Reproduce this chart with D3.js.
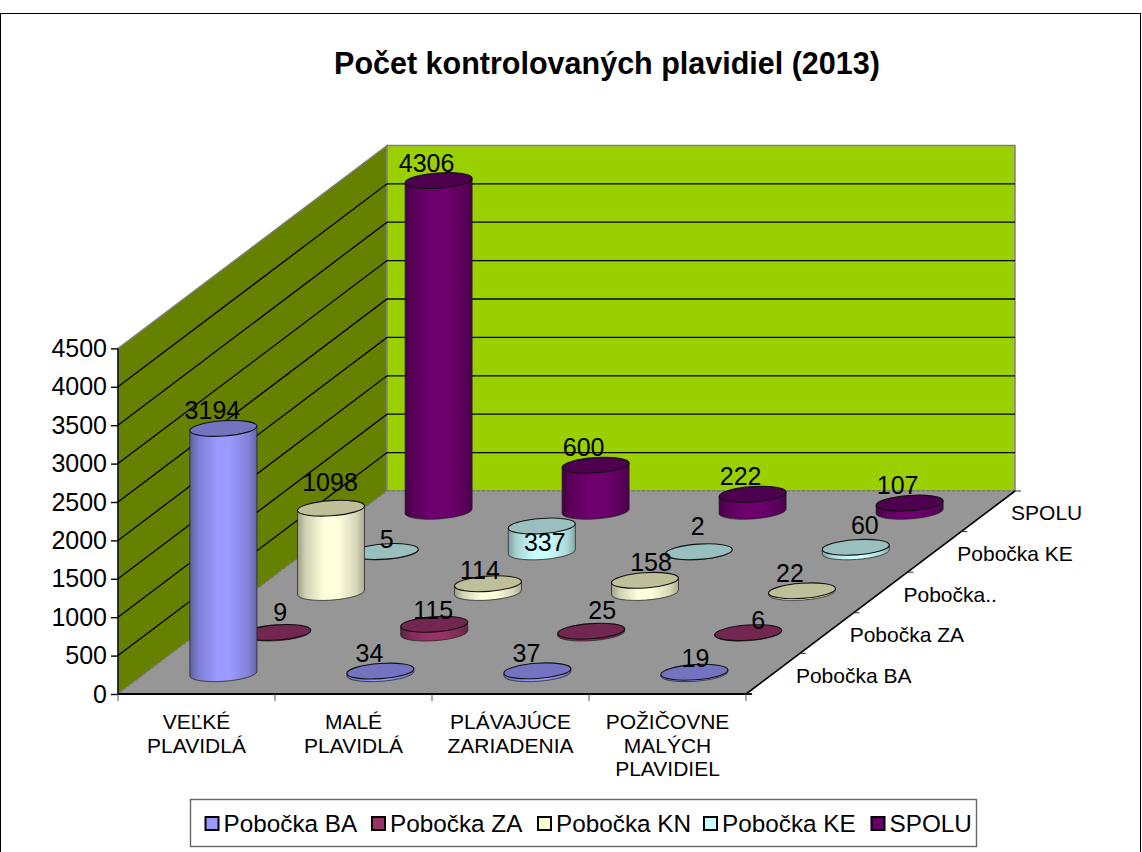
<!DOCTYPE html>
<html><head><meta charset="utf-8">
<script src="https://cdn.jsdelivr.net/npm/d3@7"></script>
<style>html,body{margin:0;padding:0;background:#fff}svg{display:block}text{font-family:"Liberation Sans",Arial,sans-serif;fill:#000}</style>
</head><body><script>
const title = "Počet kontrolovaných plavidiel (2013)";
const categories = [["VEĽKÉ","PLAVIDLÁ"],["MALÉ","PLAVIDLÁ"],["PLÁVAJÚCE","ZARIADENIA"],["POŽIČOVNE","MALÝCH","PLAVIDIEL"]];
const series = ["Pobočka BA","Pobočka ZA","Pobočka KN","Pobočka KE","SPOLU"];
const depthLabels = ["Pobočka BA","Pobočka ZA","Pobočka..","Pobočka KE","SPOLU"];
const valuesBA = [3194,34,37,19];
const valuesZA = [9,115,25,6];
const valuesKN = [1098,114,158,22];
const valuesKE = [5,337,2,60];
const valuesSPOLU = [4306,600,222,107];
const allValues = [valuesBA,valuesZA,valuesKN,valuesKE,valuesSPOLU];
const yTicks = [0,500,1000,1500,2000,2500,3000,3500,4000,4500];
const sideColors = ["#9999FF","#993366","#FFFFDC","#CCFFFF","#6E006E"];
const legendColors = ["#9999FF","#993366","#FFFFCC","#CCFFFF","#660066"];
const topColors = ["#7373BF","#732650","#BFBF99","#99BFBF","#4D004D"];
// label placement relative to the top of each cylinder (per series, per category)
const labelNudge = [
 [[-11,-18],[-11,-18],[-11,-18],[1,-14]],
 [[3,-20],[-1,-14],[11,-21],[10,-13]],
 [[-1,-26],[-8,-14],[6,-18],[-12,-18]],
 [[2,-13],[3,16],[-1,-26],[9,-22]],
 [[-12,-18],[-12,-18],[-12,-18],[-12,-18]]
];

const W=1142,H=852;
const fx0=118,fx1=746,fy=694,depthX=269,depthY=-203;
const catIdx=d3.range(categories.length), serIdx=d3.range(series.length);
const xBand=d3.scaleBand().domain(catIdx).range([fx0,fx1]);
const dBand=d3.scaleBand().domain(serIdx).range([0,1]);
const yS=d3.scaleLinear().domain([0,4500]).range([fy,fy-345.6]);
const P=(x,d,v=0)=>[x+d*depthX, yS(v)+d*depthY];

const svg=d3.select("body").append("svg").attr("width",W).attr("height",H).attr("viewBox",`0 0 ${W} ${H}`);
svg.append("rect").attr("x",0.5).attr("y",13.5).attr("width",W-2).attr("height",H).attr("fill","#fff").attr("stroke","#000").attr("stroke-width",1);
svg.append("text").attr("x",607).attr("y",74).attr("text-anchor","middle").attr("font-size",30.5).attr("font-weight","bold").text(title);

const poly=(pts,fill,stroke,sw,dash)=>svg.append("polygon").attr("points",pts.map(p=>p.join(",")).join(" ")).attr("fill",fill).attr("stroke",stroke||"none").attr("stroke-width",sw||0).attr("stroke-dasharray",dash||null);
// walls and floor
poly([P(fx0,0,0),P(fx0,1,0),P(fx0,1,4500),P(fx0,0,4500)],"#668000","#808080",1.2);
poly([P(fx0,1,0),P(fx1,1,0),P(fx1,1,4500),P(fx0,1,4500)],"#9BD000","#808080",1.5);
poly([P(fx0,0,0),P(fx1,0,0),P(fx1,1,0),P(fx0,1,0)],"#969696","#707070",1,"3,2");
// gridlines
yTicks.filter(t=>t>0&&t<4500).forEach(t=>{
  const pts=[P(fx0,0,t),P(fx0,1,t),P(fx1,1,t)];
  svg.append("polyline").attr("points",pts.map(p=>p.join(",")).join(" ")).attr("fill","none").attr("stroke","#000").attr("stroke-width",1.3);
});
// value axis
const ax=svg.append("g").attr("transform",`translate(${fx0},0)`).call(d3.axisLeft(yS).tickValues(yTicks).tickSize(7).tickPadding(4).tickFormat(d3.format("d")));
ax.selectAll("text").attr("font-size",25).style("font-family",'"Liberation Sans",Arial,sans-serif');
ax.selectAll("line,path").attr("stroke","#000").attr("stroke-width",1.4);
ax.select("path").attr("d",`M0,${yS(4500)}V${yS(0)}`);
// category axis
svg.append("line").attr("x1",fx0).attr("x2",fx1+6).attr("y1",fy).attr("y2",fy).attr("stroke","#000").attr("stroke-width",2);
[...catIdx.map(c=>xBand(c)),fx1].forEach(x=>svg.append("line").attr("x1",x).attr("x2",x).attr("y1",fy).attr("y2",fy+7).attr("stroke","#555").attr("stroke-width",1));
catIdx.forEach(c=>{
  const t=svg.append("text").attr("text-anchor","middle").attr("font-size",21);
  categories[c].forEach((ln,i)=>t.append("tspan").attr("x",xBand(c)+xBand.bandwidth()/2).attr("y",729+i*23.5).text(ln));
});
// depth axis
svg.append("line").attr("x1",fx1).attr("y1",fy).attr("x2",fx1+depthX).attr("y2",fy+depthY).attr("stroke","#000").attr("stroke-width",1.6);
d3.range(series.length+1).forEach(i=>{
  const p=P(fx1,i/series.length,0);
  svg.append("line").attr("x1",p[0]).attr("x2",p[0]+6).attr("y1",p[1]).attr("y2",p[1]).attr("stroke","#333").attr("stroke-width",1);
});
serIdx.forEach(s=>{
  const d=dBand(s)+dBand.bandwidth()/2;
  const p=P(fx1,d,0);
  svg.append("text").attr("x",p[0]+23).attr("y",p[1]+9).attr("font-size",21).text(depthLabels[s]);
});
// gradients
const defs=svg.append("defs");
serIdx.forEach(s=>{
  const base=d3.color(sideColors[s]);
  const g=defs.append("linearGradient").attr("id","g"+s).attr("x1",0).attr("x2",1).attr("y1",0).attr("y2",0);
  [[0,.62],[.12,.82],[.4,1],[.6,1],[.88,.84],[1,.66]].forEach(([o,k])=>{
    g.append("stop").attr("offset",o).attr("stop-color",d3.rgb(base.r*k,base.g*k,base.b*k).formatHex());
  });
});
// cylinders, back to front
const rx=33.6,ry=7.6,rot=-4,th=rot*Math.PI/180;
const ex=rx*Math.cos(th),ey=rx*Math.sin(th);
const h=v=>yS(0)-yS(v);
const centre=(c,s)=>xBand(c)+xBand.bandwidth()/2;
[...serIdx].reverse().forEach(s=>{
  catIdx.forEach(c=>{
    const v=allValues[s][c];
    const [cx,by]=P(centre(c,s),dBand(s)+dBand.bandwidth()/2,0);
    const ty=by-h(v);
    svg.append("path")
      .attr("d",`M${cx-ex},${ty-ey}L${cx-ex},${by-ey}A${rx},${ry} ${rot} 0 0 ${cx+ex},${by+ey}L${cx+ex},${ty+ey}Z`)
      .attr("fill",`url(#g${s})`).attr("stroke","#222").attr("stroke-opacity",.75).attr("stroke-width",1);
    svg.append("ellipse").attr("cx",cx).attr("cy",ty).attr("rx",rx).attr("ry",ry)
      .attr("transform",`rotate(${rot} ${cx} ${ty})`)
      .attr("fill",topColors[s]).attr("stroke","#111").attr("stroke-width",1.1);
  });
});
// data labels
serIdx.forEach(s=>catIdx.forEach(c=>{
  const v=allValues[s][c];
  const [cx,by]=P(centre(c,s),dBand(s)+dBand.bandwidth()/2,0);
  const [dx,dy]=labelNudge[s][c];
  svg.append("text").attr("x",cx+dx).attr("y",by-h(v)+dy).attr("dy","0.36em").attr("text-anchor","middle").attr("font-size",25).text(v);
}));
// legend
svg.append("rect").attr("x",190.5).attr("y",799.5).attr("width",786).attr("height",47).attr("fill","#fff").attr("stroke","#666").attr("stroke-width",1.4);
const legendX=d3.scaleOrdinal().domain(serIdx).range([205.5,372,538,704,871.5]);
serIdx.forEach(s=>{
  const x=legendX(s);
  svg.append("rect").attr("x",x).attr("y",817).attr("width",13).attr("height",13).attr("fill",legendColors[s]).attr("stroke","#000").attr("stroke-width",2);
  svg.append("text").attr("x",x+18).attr("y",832).attr("font-size",24.3).text(series[s]);
});
</script></body></html>
